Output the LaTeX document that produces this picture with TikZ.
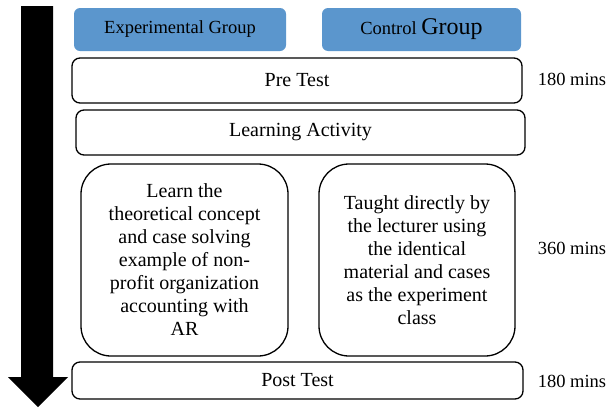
\documentclass[tikz,border=0pt]{standalone}
\usepackage{fontspec}
\setmainfont{Liberation Serif}
\usepackage{xcolor}
\usetikzlibrary{arrows.meta}
\definecolor{grpblue}{RGB}{91,150,205}

\begin{document}
\begin{tikzpicture}[x=1pt, y=-1pt,
        group/.style={fill=grpblue, rounded corners=6pt, minimum height=43pt, align=center, inner sep=0pt},
        stage/.style={draw, line width=1.3pt, rounded corners=8pt, align=center, inner sep=0pt, font=\fontsize{20}{23}\selectfont},
        activity/.style={draw, line width=1.3pt, rounded corners=30pt, minimum width=200pt, minimum height=192pt, align=center, inner sep=0pt, font=\fontsize{20}{23}\selectfont},
        duration/.style={font=\fontsize{18.5}{22}\selectfont}
    ]
        \useasboundingbox (0,0) rectangle (607,410);

        % time arrow
        \fill (21,6) -- (53,6) -- (53,377) -- (68,377) -- (38,407) -- (8,377) -- (21,377) -- cycle;

        \node[group, minimum width=212pt, font=\fontsize{18.5}{22}\selectfont] (expgroup) at (180,29.5) {Experimental Group};
        \node[group, minimum width=199pt] (ctrlgroup) at (421.5,29.5) {\fontsize{18.5}{22}\selectfont Control \fontsize{24}{26}\selectfont Group};

        \node[stage, minimum width=450pt, minimum height=45pt] (pretest) at (297,80.5) {Pre Test};
        \node[stage, minimum width=449pt, minimum height=45pt] (learning) at (300.5,132.5) {Learning Activity};

        \node[activity, minimum width=207pt] (expact) at (184.5,260) {Learn the\\theoretical concept\\and case solving\\example of non-\\profit organization\\accounting with\\AR};
        \node[activity, minimum width=196pt] (ctrlact) at (417,260) {Taught directly by\\the lecturer using\\the identical\\material and cases\\as the experiment\\class};

        \node[stage, minimum width=451pt, minimum height=37pt] (posttest) at (297.5,380.5) {Post Test};

        \node[duration] (pretime) at (572,79) {180 mins};
        \node[duration] (acttime) at (572,248) {360 mins};
        \node[duration] (posttime) at (572,381) {180 mins};
    \end{tikzpicture}
\end{document}
